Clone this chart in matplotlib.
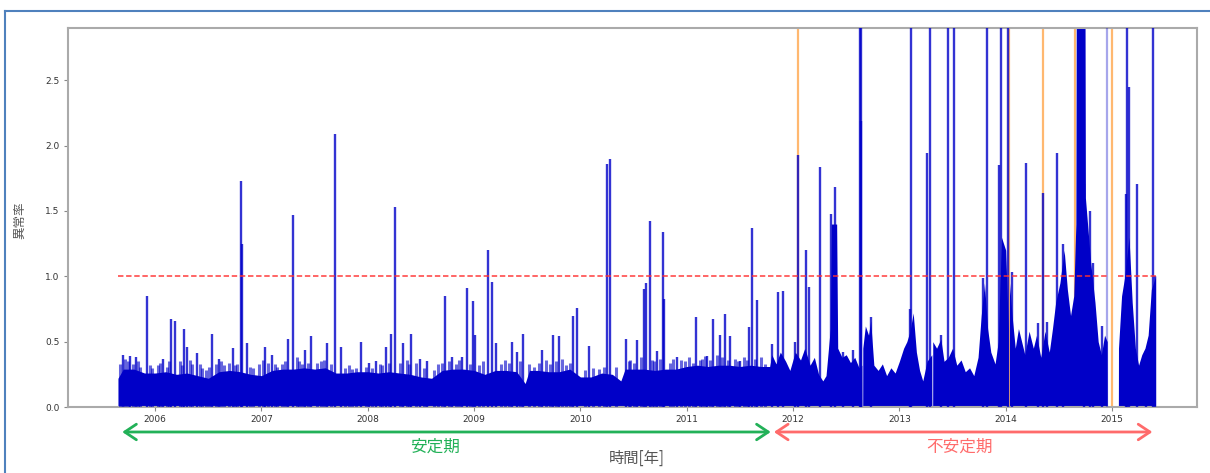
import numpy as np
import matplotlib
matplotlib.use("Agg")
import matplotlib.pyplot as plt
import matplotlib.transforms as mtransforms
from matplotlib.lines import Line2D

plt.rcParams['font.family'] = ['Noto Sans CJK JP', 'DejaVu Sans']

# 異常率の下地（密な部分の上端）: 年, 値。値0の組はデータ欠損
base_t = [2005.65, 2005.70, 2005.80, 2005.90, 2006.00, 2006.10, 2006.20, 2006.30, 2006.40, 2006.50,
          2006.60, 2006.70, 2006.80, 2006.90, 2007.00, 2007.10, 2007.20, 2007.30, 2007.40, 2007.50,
          2007.60, 2007.70, 2007.80, 2007.90, 2008.00, 2008.10, 2008.20, 2008.30, 2008.40, 2008.50,
          2008.60, 2008.70, 2008.80, 2008.90, 2009.00, 2009.10, 2009.20, 2009.30, 2009.40, 2009.48,
          2009.52, 2009.60, 2009.70, 2009.80, 2009.90, 2010.00, 2010.10, 2010.20, 2010.30, 2010.38,
          2010.42, 2010.50, 2010.60, 2010.70, 2010.80, 2010.90, 2011.00, 2011.10, 2011.20, 2011.30,
          2011.40, 2011.50, 2011.60, 2011.70,
          2011.78, 2011.80, 2011.84, 2011.88, 2011.93, 2011.97, 2012.02, 2012.07, 2012.11, 2012.16,
          2012.20, 2012.24, 2012.28, 2012.31, 2012.35, 2012.36, 2012.41, 2012.42, 2012.46, 2012.50,
          2012.54, 2012.58, 2012.62, 2012.647, 2012.648, 2012.655, 2012.656, 2012.68, 2012.71, 2012.73,
          2012.76, 2012.80, 2012.84, 2012.88, 2012.92, 2012.96, 2013.00, 2013.04, 2013.07, 2013.10,
          2013.13, 2013.16, 2013.19, 2013.22, 2013.26, 2013.305, 2013.306, 2013.313, 2013.314, 2013.35,
          2013.39, 2013.42, 2013.46, 2013.50, 2013.54, 2013.58, 2013.62, 2013.66, 2013.70, 2013.74,
          2013.77, 2013.80, 2013.83, 2013.86, 2013.90, 2013.93, 2013.96, 2014.00, 2014.025, 2014.026,
          2014.035, 2014.036, 2014.06, 2014.09, 2014.12, 2014.15, 2014.18, 2014.22, 2014.26, 2014.29,
          2014.33, 2014.37, 2014.41, 2014.44, 2014.47, 2014.51, 2014.55, 2014.58, 2014.61, 2014.64,
          2014.66, 2014.665, 2014.745, 2014.75, 2014.80, 2014.84, 2014.87, 2014.90, 2014.93, 2014.955,
          2014.956, 2015.06, 2015.061, 2015.09, 2015.12, 2015.16, 2015.19, 2015.22, 2015.25, 2015.28,
          2015.31, 2015.34, 2015.37, 2015.41]
base_v = [0.22, 0.29, 0.29, 0.26, 0.26, 0.27, 0.25, 0.26, 0.24, 0.22,
          0.27, 0.28, 0.27, 0.25, 0.24, 0.28, 0.29, 0.29, 0.30, 0.29,
          0.30, 0.26, 0.26, 0.27, 0.27, 0.26, 0.27, 0.26, 0.25, 0.23,
          0.22, 0.28, 0.29, 0.29, 0.28, 0.25, 0.28, 0.28, 0.27, 0.18,
          0.28, 0.28, 0.27, 0.27, 0.29, 0.23, 0.23, 0.26, 0.25, 0.20,
          0.29, 0.29, 0.29, 0.28, 0.29, 0.29, 0.31, 0.32, 0.31, 0.32,
          0.32, 0.31, 0.32, 0.31,
          0.31, 0.40, 0.33, 0.42, 0.35, 0.28, 0.42, 0.36, 0.45, 0.32,
          0.38, 0.25, 0.20, 0.24, 0.60, 1.40, 1.40, 0.45, 0.38, 0.40,
          0.34, 0.38, 0.30, 0.32, 0.00, 0.00, 0.45, 0.62, 0.55, 0.66,
          0.32, 0.28, 0.33, 0.24, 0.30, 0.26, 0.35, 0.45, 0.50, 0.58,
          0.72, 0.42, 0.28, 0.20, 0.35, 0.40, 0.00, 0.00, 0.50, 0.45,
          0.52, 0.35, 0.38, 0.45, 0.32, 0.36, 0.27, 0.30, 0.24, 0.38,
          0.70, 0.95, 0.60, 0.42, 0.33, 0.50, 1.30, 1.20, 0.60, 0.00,
          0.00, 0.95, 0.70, 0.45, 0.60, 0.50, 0.40, 0.58, 0.45, 0.55,
          0.38, 0.58, 0.42, 0.60, 0.80, 0.95, 1.20, 0.90, 0.70, 0.85,
          1.40, 3.50, 3.50, 1.60, 1.10, 0.80, 0.50, 0.40, 0.55, 0.50,
          0.00, 0.00, 0.45, 0.85, 1.00, 1.30, 0.80, 0.45, 0.32, 0.40,
          0.45, 0.55, 0.90, 1.00]

# 突出した値: 年, 値
spike_t = [2005.70, 2005.76, 2005.82, 2005.92, 2006.07, 2006.15, 2006.19, 2006.27, 2006.30, 2006.39,
           2006.53, 2006.60, 2006.73, 2006.81, 2006.82, 2006.86, 2007.03, 2007.10, 2007.25, 2007.30,
           2007.41, 2007.47, 2007.62, 2007.69, 2007.75, 2007.94, 2008.01, 2008.08, 2008.17, 2008.22,
           2008.26, 2008.33, 2008.41, 2008.49, 2008.56, 2008.73, 2008.79, 2008.89, 2008.93, 2008.99,
           2009.01, 2009.13, 2009.17, 2009.21, 2009.36, 2009.40, 2009.46, 2009.64, 2009.74, 2009.80,
           2009.93, 2009.97, 2010.08, 2010.25, 2010.28, 2010.43, 2010.53, 2010.60, 2010.62, 2010.65,
           2010.72, 2010.78, 2010.79, 2010.91, 2011.09, 2011.19, 2011.25, 2011.31, 2011.36, 2011.41,
           2011.50, 2011.59, 2011.61, 2011.66,
           2011.80, 2011.86, 2011.91, 2012.02, 2012.05, 2012.12, 2012.15, 2012.25, 2012.36, 2012.39,
           2012.47, 2012.56, 2012.625, 2012.635, 2012.64, 2012.73, 2013.10, 2013.11, 2013.26, 2013.29,
           2013.39, 2013.46, 2013.51, 2013.79, 2013.82, 2013.94, 2013.96, 2014.02, 2014.06, 2014.19,
           2014.30, 2014.35, 2014.39, 2014.48, 2014.54, 2014.74, 2014.79, 2014.82, 2014.91, 2015.13,
           2015.14, 2015.16, 2015.235, 2015.32, 2015.386, 2015.40]
spike_v = [0.40, 0.39, 0.38, 0.85, 0.37, 0.67, 0.66, 0.60, 0.46, 0.41,
           0.56, 0.37, 0.45, 1.73, 1.25, 0.49, 0.46, 0.40, 0.52, 1.47,
           0.44, 0.54, 0.49, 2.09, 0.46, 0.50, 0.34, 0.35, 0.46, 0.56,
           1.53, 0.49, 0.56, 0.37, 0.35, 0.85, 0.38, 0.38, 0.91, 0.81,
           0.55, 1.20, 0.96, 0.49, 0.50, 0.42, 0.56, 0.44, 0.55, 0.54,
           0.70, 0.76, 0.47, 1.86, 1.90, 0.52, 0.51, 0.90, 0.95, 1.42,
           0.43, 1.34, 0.83, 0.38, 0.69, 0.39, 0.67, 0.55, 0.71, 0.54,
           0.35, 0.61, 1.37, 0.82,
           0.48, 0.88, 0.89, 0.50, 1.93, 1.20, 0.92, 1.84, 1.48, 1.68,
           0.42, 0.44, 3.50, 2.19, 3.50, 0.69, 0.75, 3.50, 1.94, 3.50,
           0.55, 3.50, 3.50, 0.99, 3.50, 1.85, 3.50, 3.50, 1.03, 1.87,
           0.64, 1.64, 0.65, 1.94, 1.25, 1.71, 1.50, 1.10, 0.62, 1.63,
           3.50, 2.45, 1.71, 0.43, 3.50, 1.00]

# 下地の細かい揺らぎ
minor_t = [2005.67, 2005.72, 2005.74, 2005.79, 2005.84, 2005.86, 2005.95, 2005.97, 2006.03, 2006.05,
           2006.11, 2006.13, 2006.23, 2006.25, 2006.33, 2006.35, 2006.42, 2006.44, 2006.48, 2006.51,
           2006.57, 2006.62, 2006.65, 2006.69, 2006.75, 2006.77, 2006.89, 2006.92, 2006.98, 2007.01,
           2007.06, 2007.13, 2007.15, 2007.19, 2007.22, 2007.33, 2007.35, 2007.38, 2007.44, 2007.52,
           2007.56, 2007.59, 2007.65, 2007.79, 2007.82, 2007.85, 2007.89, 2007.98, 2008.04, 2008.11,
           2008.13, 2008.20, 2008.30, 2008.37, 2008.39, 2008.45, 2008.53, 2008.62, 2008.66, 2008.70,
           2008.76, 2008.83, 2008.86, 2008.96, 2009.05, 2009.08, 2009.25, 2009.29, 2009.33, 2009.43,
           2009.52, 2009.56, 2009.61, 2009.68, 2009.71, 2009.77, 2009.83, 2009.86, 2009.90, 2010.04,
           2010.12, 2010.17, 2010.22, 2010.33, 2010.46, 2010.47, 2010.50, 2010.57, 2010.67, 2010.69,
           2010.75, 2010.84, 2010.87, 2010.95, 2010.98, 2011.02, 2011.06, 2011.12, 2011.14, 2011.17,
           2011.22, 2011.28, 2011.33, 2011.39, 2011.45, 2011.48, 2011.54, 2011.57, 2011.64, 2011.70,
           2011.74]
minor_v = [0.33, 0.37, 0.35, 0.33, 0.35, 0.31, 0.32, 0.30, 0.32, 0.34,
           0.31, 0.35, 0.35, 0.32, 0.36, 0.33, 0.33, 0.30, 0.28, 0.31,
           0.33, 0.35, 0.32, 0.34, 0.32, 0.33, 0.31, 0.30, 0.33, 0.36,
           0.34, 0.33, 0.31, 0.33, 0.35, 0.38, 0.35, 0.33, 0.34, 0.34,
           0.35, 0.36, 0.33, 0.30, 0.32, 0.29, 0.30, 0.31, 0.30, 0.33,
           0.32, 0.34, 0.34, 0.36, 0.33, 0.34, 0.30, 0.28, 0.33, 0.34,
           0.35, 0.33, 0.36, 0.33, 0.32, 0.35, 0.33, 0.36, 0.34, 0.35,
           0.33, 0.31, 0.34, 0.36, 0.33, 0.35, 0.37, 0.32, 0.34, 0.28,
           0.30, 0.29, 0.31, 0.31, 0.35, 0.36, 0.34, 0.38, 0.36, 0.35,
           0.37, 0.34, 0.37, 0.36, 0.35, 0.38, 0.34, 0.36, 0.37, 0.39,
           0.36, 0.40, 0.38, 0.36, 0.37, 0.35, 0.38, 0.36, 0.37, 0.38,
           0.33]

# 薄く見える単発の値
faint_t = [2014.955]
faint_v = [3.50]

# イベント発生時刻
event_t = [2012.05, 2014.03, 2014.35, 2014.65, 2015.00]

# 閾値線の区間（データ欠損で途切れる）
thr_start = [2005.65, 2015.06]
thr_end = [2014.96, 2015.41]
threshold = 1.0

years = [2006, 2007, 2008, 2009, 2010, 2011, 2012, 2013, 2014, 2015]
yticks = [0.0, 0.5, 1.0, 1.5, 2.0, 2.5]

blue = '#0000C8'
gray_txt = '#555555'

fig = plt.figure(figsize=(12.1, 4.73), dpi=100)
ax = fig.add_axes([0.0562, 0.1395, 0.9331, 0.8013])

for t in event_t:
    ax.axvline(t, color='#FFB870', lw=1.6, zorder=1)

ax.fill_between(base_t, 0, base_v, color=blue, lw=0, zorder=2)
ax.vlines(minor_t, 0, minor_v, color=blue, lw=2.2, alpha=0.6, zorder=3)
ax.vlines(spike_t, 0, spike_v, color=blue, lw=1.7, alpha=0.8, zorder=3)
ax.vlines(faint_t, 0, faint_v, color=blue, lw=1.6, alpha=0.35, zorder=3)

for a, b in zip(thr_start, thr_end):
    ax.plot([a, b], [threshold, threshold], color='#FF3030', lw=1.3,
            ls=(0, (3, 1.5)), alpha=0.8, zorder=4)

ax.set_xlim(2005.18, 2015.80)
ax.set_ylim(0, 2.9)
ax.set_xticks(years)
ax.set_xticklabels([str(y) for y in years], fontsize=6.5, color='#333333', family='DejaVu Sans')
ax.set_yticks(yticks)
ax.set_yticklabels([f'{v:.1f}' for v in yticks], fontsize=6.5, color='#333333', family='DejaVu Sans')
ax.tick_params(length=3, width=0.8, color='#888888', pad=3)
for s in ax.spines.values():
    s.set_color('#AAAAAA')
    s.set_linewidth(1.5)

fig.text(0.0165, 0.535, '異常率', rotation=90, ha='center', va='center',
         fontsize=9, color=gray_txt)
fig.text(0.526, 0.032, '時間[年]', ha='center', va='center', fontsize=11, color=gray_txt)

# 安定期・不安定期の矢印
arrow_y = 0.0867
xfig = mtransforms.blended_transform_factory(ax.transData, fig.transFigure)
ax.annotate('', xy=(2011.79, arrow_y), xytext=(2005.69, arrow_y),
            xycoords=xfig, textcoords=xfig,
            arrowprops=dict(arrowstyle='<->,head_length=0.6,head_width=0.4',
                            color='#22B158', lw=2, mutation_scale=14, shrinkA=0, shrinkB=0),
            annotation_clip=False)
ax.annotate('', xy=(2015.38, arrow_y), xytext=(2011.82, arrow_y),
            xycoords=xfig, textcoords=xfig,
            arrowprops=dict(arrowstyle='<->,head_length=0.6,head_width=0.4',
                            color='#FF6B6B', lw=2, mutation_scale=14, shrinkA=0, shrinkB=0),
            annotation_clip=False)
ax.text(2008.63, 0.055, '安定期', transform=xfig,
        ha='center', va='center', fontsize=12, color='#22B158')
ax.text(2013.57, 0.055, '不安定期', transform=xfig,
        ha='center', va='center', fontsize=12, color='#FF6B6B')

# 外枠
fig.add_artist(Line2D([0.004, 1.0], [0.9767, 0.9767], color='#4F81BD', lw=1.5))
fig.add_artist(Line2D([0.004, 0.004], [0.0, 0.9767], color='#4F81BD', lw=1.5))

fig.savefig('out.png', dpi=100)
